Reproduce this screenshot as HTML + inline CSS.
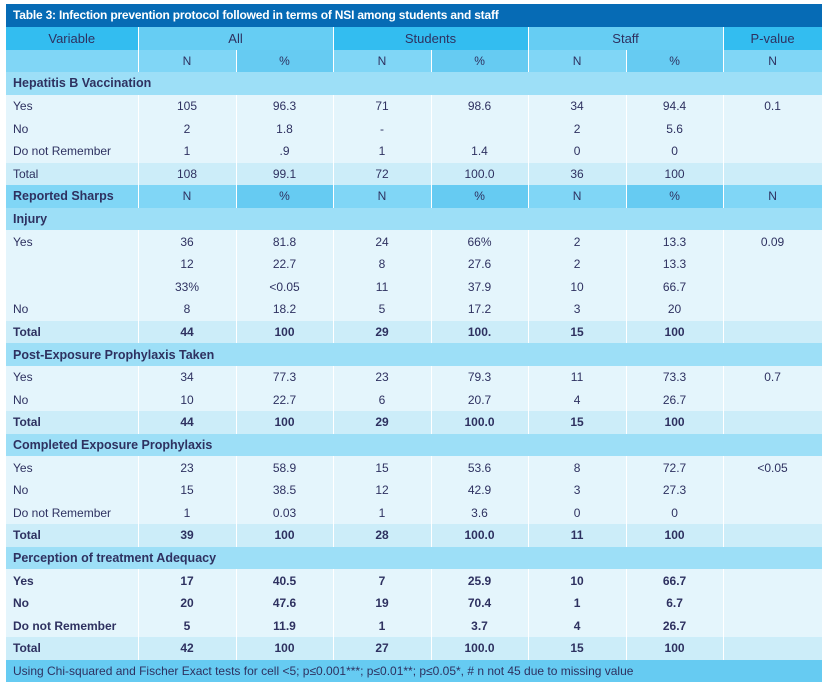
<!DOCTYPE html>
<html><head><meta charset="utf-8">
<style>
body{margin:0;background:#fff;width:827px;height:689px;overflow:hidden;font-family:"Liberation Sans",Arial,sans-serif;}
#wrap{position:absolute;left:6px;top:4px;width:816px;}
.title{height:23px;background:#066bb5;color:#fff;font-weight:bold;font-size:12px;line-height:23px;padding-left:7px;box-sizing:border-box;letter-spacing:-0.2px}
table{border-collapse:collapse;table-layout:fixed;width:816px;font-size:12px;color:#2e3160}
td{height:22.6px;padding:0;text-align:center;white-space:nowrap;overflow:hidden;border-right:1px solid rgba(255,255,255,0.35)}
td:first-child{text-align:left;padding-left:7px}
tr{height:22.6px}
.h1 td{background:#33bdf0;font-size:13px}
.h1 td.l{background:#66cdf3}
.h2 td{background:#80d6f6}
.h2 td.d{background:#66cbf2}
.sec td{background:#9ddff7;font-weight:bold;font-size:12.5px}
.dat td{background:#e4f5fc}
.tot td{background:#ccedf9}
.b td{font-weight:bold}
.foot td{background:#66cbf2;text-align:left;padding-left:7px}
</style></head><body>
<div id="wrap">
<div class="title">Table 3: Infection prevention protocol followed in terms of NSI among students and staff</div>
<table>
<colgroup><col style="width:132px"><col style="width:98px"><col style="width:97px"><col style="width:98px"><col style="width:97px"><col style="width:98px"><col style="width:97px"><col style="width:99px"></colgroup>
<tr class="h1"><td style="text-align:center;padding:0">Variable</td><td class="l" colspan="2">All</td><td colspan="2">Students</td><td class="l" colspan="2">Staff</td><td>P-value</td></tr>
<tr class="h2"><td></td><td>N</td><td class="d">%</td><td>N</td><td class="d">%</td><td>N</td><td class="d">%</td><td>N</td></tr>
<tr class="sec"><td colspan="8">Hepatitis B Vaccination</td></tr>
<tr class="dat"><td>Yes</td><td>105</td><td>96.3</td><td>71</td><td>98.6</td><td>34</td><td>94.4</td><td>0.1</td></tr>
<tr class="dat"><td>No</td><td>2</td><td>1.8</td><td>-</td><td></td><td>2</td><td>5.6</td><td></td></tr>
<tr class="dat"><td>Do not Remember</td><td>1</td><td>.9</td><td>1</td><td>1.4</td><td>0</td><td>0</td><td></td></tr>
<tr class="tot"><td>Total</td><td>108</td><td>99.1</td><td>72</td><td>100.0</td><td>36</td><td>100</td><td></td></tr>
<tr class="h2"><td style="font-weight:bold;font-size:12.5px">Reported Sharps</td><td>N</td><td class="d">%</td><td>N</td><td class="d">%</td><td>N</td><td class="d">%</td><td>N</td></tr>
<tr class="sec"><td colspan="8">Injury</td></tr>
<tr class="dat"><td>Yes</td><td>36</td><td>81.8</td><td>24</td><td>66%</td><td>2</td><td>13.3</td><td>0.09</td></tr>
<tr class="dat"><td></td><td>12</td><td>22.7</td><td>8</td><td>27.6</td><td>2</td><td>13.3</td><td></td></tr>
<tr class="dat"><td></td><td>33%</td><td>&lt;0.05</td><td>11</td><td>37.9</td><td>10</td><td>66.7</td><td></td></tr>
<tr class="dat"><td>No</td><td>8</td><td>18.2</td><td>5</td><td>17.2</td><td>3</td><td>20</td><td></td></tr>
<tr class="tot b"><td>Total</td><td>44</td><td>100</td><td>29</td><td>100.</td><td>15</td><td>100</td><td></td></tr>
<tr class="sec"><td colspan="8">Post-Exposure Prophylaxis Taken</td></tr>
<tr class="dat"><td>Yes</td><td>34</td><td>77.3</td><td>23</td><td>79.3</td><td>11</td><td>73.3</td><td>0.7</td></tr>
<tr class="dat"><td>No</td><td>10</td><td>22.7</td><td>6</td><td>20.7</td><td>4</td><td>26.7</td><td></td></tr>
<tr class="tot b"><td>Total</td><td>44</td><td>100</td><td>29</td><td>100.0</td><td>15</td><td>100</td><td></td></tr>
<tr class="sec"><td colspan="8">Completed Exposure Prophylaxis</td></tr>
<tr class="dat"><td>Yes</td><td>23</td><td>58.9</td><td>15</td><td>53.6</td><td>8</td><td>72.7</td><td>&lt;0.05</td></tr>
<tr class="dat"><td>No</td><td>15</td><td>38.5</td><td>12</td><td>42.9</td><td>3</td><td>27.3</td><td></td></tr>
<tr class="dat"><td>Do not Remember</td><td>1</td><td>0.03</td><td>1</td><td>3.6</td><td>0</td><td>0</td><td></td></tr>
<tr class="tot b"><td>Total</td><td>39</td><td>100</td><td>28</td><td>100.0</td><td>11</td><td>100</td><td></td></tr>
<tr class="sec"><td colspan="8">Perception of treatment Adequacy</td></tr>
<tr class="dat b"><td>Yes</td><td>17</td><td>40.5</td><td>7</td><td>25.9</td><td>10</td><td>66.7</td><td></td></tr>
<tr class="dat b"><td>No</td><td>20</td><td>47.6</td><td>19</td><td>70.4</td><td>1</td><td>6.7</td><td></td></tr>
<tr class="dat b"><td>Do not Remember</td><td>5</td><td>11.9</td><td>1</td><td>3.7</td><td>4</td><td>26.7</td><td></td></tr>
<tr class="tot b"><td>Total</td><td>42</td><td>100</td><td>27</td><td>100.0</td><td>15</td><td>100</td><td></td></tr>
<tr class="foot"><td colspan="8">Using Chi-squared and Fischer Exact tests for cell &lt;5; p≤0.001***; p≤0.01**; p≤0.05*, # n not 45 due to missing value</td></tr>
</table>
</div>
</body></html>
